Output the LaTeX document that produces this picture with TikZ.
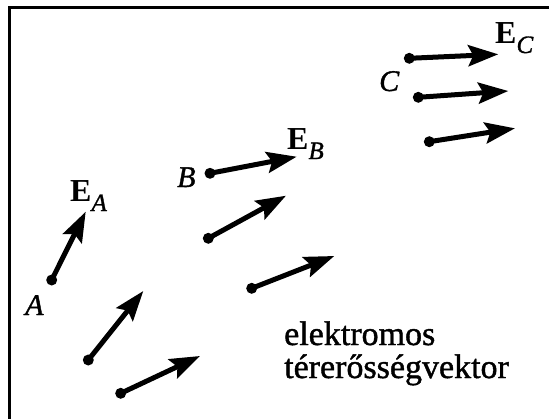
\documentclass[tikz,border=0pt]{standalone}
\usepackage{fontspec}
\setmainfont{Liberation Serif}
\newfontfamily\heavyserif[FakeBold=1.2]{Liberation Serif}
\usetikzlibrary{arrows.meta}
\tikzset{
  vec/.style={line width=5pt,-{Stealth[length=30pt,width=21pt,inset=5pt]}},
  dotmark/.style={circle,fill=black,inner sep=0pt,minimum size=11pt},
  ptlabel/.style={inner sep=0pt,anchor=base west,font=\heavyserif\fontsize{30}{30}\selectfont\itshape},
  elabel/.style={inner sep=0pt,anchor=base west,font=\fontsize{32}{32}\selectfont\bfseries},
  bodytext/.style={inner sep=0pt,anchor=base west,font=\heavyserif\fontsize{34}{34}\selectfont},
  frame/.style={line width=3.5pt}
}
\newcommand{\mysub}[1]{\raisebox{-10pt}{\heavyserif\mdseries\fontsize{25}{25}\selectfont\itshape #1}}
\begin{document}
\begin{tikzpicture}[x=1pt,y=-1pt]
\useasboundingbox (0,0) rectangle (549,418);
% frame
\coordinate (fbl) at (9.5,420);
\coordinate (ftl) at (9.5,7.5);
\coordinate (ftr) at (551,7.5);
\draw[frame] (fbl) -- (ftl) -- (ftr);

% start and end points
\node[dotmark] (a1s) at (51.7,280) {};   \coordinate (a1e) at (85.7,211.7);
\node[dotmark] (a2s) at (88.3,360) {};   \coordinate (a2e) at (143.3,291);
\node[dotmark] (a3s) at (120.7,393.3) {}; \coordinate (a3e) at (200,356);
\node[dotmark] (b1s) at (210,173.3) {};  \coordinate (b1e) at (296.7,156.7);
\node[dotmark] (b2s) at (208.3,238.3) {}; \coordinate (b2e) at (286,195.7);
\node[dotmark] (b3s) at (251.7,288.3) {}; \coordinate (b3e) at (334.3,256);
\node[dotmark] (c1s) at (409.3,58.3) {}; \coordinate (c1e) at (498.3,54.3);
\node[dotmark] (c2s) at (418.3,97.3) {}; \coordinate (c2e) at (508.3,91);
\node[dotmark] (c3s) at (429.3,141.7) {}; \coordinate (c3e) at (515,128.3);

\draw[vec] (a1s.center) -- (a1e);
\draw[vec] (a2s.center) -- (a2e);
\draw[vec] (a3s.center) -- (a3e);
\draw[vec] (b1s.center) -- (b1e);
\draw[vec] (b2s.center) -- (b2e);
\draw[vec] (b3s.center) -- (b3e);
\draw[vec] (c1s.center) -- (c1e);
\draw[vec] (c2s.center) -- (c2e);
\draw[vec] (c3s.center) -- (c3e);

% point labels
\node[ptlabel] (la) at (25,315) {A};
\node[ptlabel] (lb) at (177,187) {B};
\node[ptlabel] (lc) at (379,91) {C};

% field labels
\node[elabel] (ea) at (70,201) {E\mysub{A}};
\node[elabel] (eb) at (287,149) {E\mysub{B}};
\node[elabel] (ec) at (495,43) {E\mysub{C}};

% text
\node[bodytext] (t1) at (284,345) {elektromos};
\node[bodytext] (t2) at (284,378) {térerősségvektor};
\end{tikzpicture}
\end{document}
